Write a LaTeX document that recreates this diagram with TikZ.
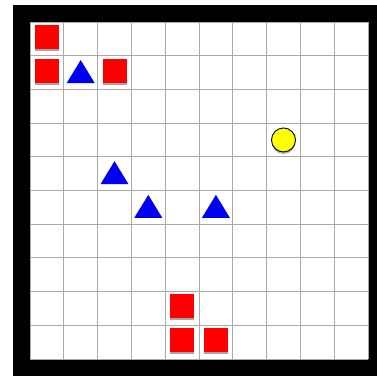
\documentclass[tikz,border=0pt]{standalone}
\usetikzlibrary{shadows}
\definecolor{gridgray}{HTML}{AAAAAA}
\definecolor{sqred}{HTML}{FF0000}
\definecolor{triblue}{HTML}{0000F0}
\definecolor{circyellow}{HTML}{FFFF00}
\begin{document}
\begin{tikzpicture}[x=1pt,y=-1pt,
  redsq/.style={fill=sqred,draw=none,minimum size=24pt,inner sep=0pt,
    drop shadow={shadow xshift=0pt,shadow yshift=-2pt,opacity=0.35,fill=black}},
  bluetri/.style={fill=triblue},
  yelcirc/.style={fill=circyellow,draw=black,line width=0.9pt,
    drop shadow={shadow xshift=0pt,shadow yshift=-2pt,opacity=0.3,fill=black}},
  gridline/.style={draw=gridgray,line width=1pt}]
\useasboundingbox (0,0) rectangle (377,376);
\fill[white] (0,0) rectangle (377,376);
\fill[black] (13,5) rectangle (377,376);
\fill[white] (30,22) rectangle (368,359);
\def\cw{33.8}
\def\ch{33.7}
\foreach \i in {0,...,10} {
  \draw[gridline] ({30+\i*\cw},22) -- ({30+\i*\cw},359);
  \draw[gridline] (30,{22+\i*\ch}) -- (368,{22+\i*\ch});
}
% red squares (col,row)
\foreach \c/\r/\n in {0/0/a,0/1/b,2/1/c,4/8/d,4/9/e,5/9/f} {
  \node[redsq] (sq\n) at ({30+(\c+0.5)*\cw},{22+(\r+0.5)*\ch-2}) {};
}
% blue triangles
\foreach \c/\r in {1/1,2/4,3/5,5/5} {
  \fill[bluetri] ({30+(\c+0.5)*\cw-14},{22+(\r+0.5)*\ch+10.5})
    -- ({30+(\c+0.5)*\cw+14},{22+(\r+0.5)*\ch+10.5})
    -- ({30+(\c+0.5)*\cw},{22+(\r+0.5)*\ch-12.5}) -- cycle;
}
% yellow circle
\node[yelcirc,circle,minimum size=24pt,inner sep=0pt] (ball) at ({30+7.5*\cw},{22+3.5*\ch}) {};
\end{tikzpicture}
\end{document}
